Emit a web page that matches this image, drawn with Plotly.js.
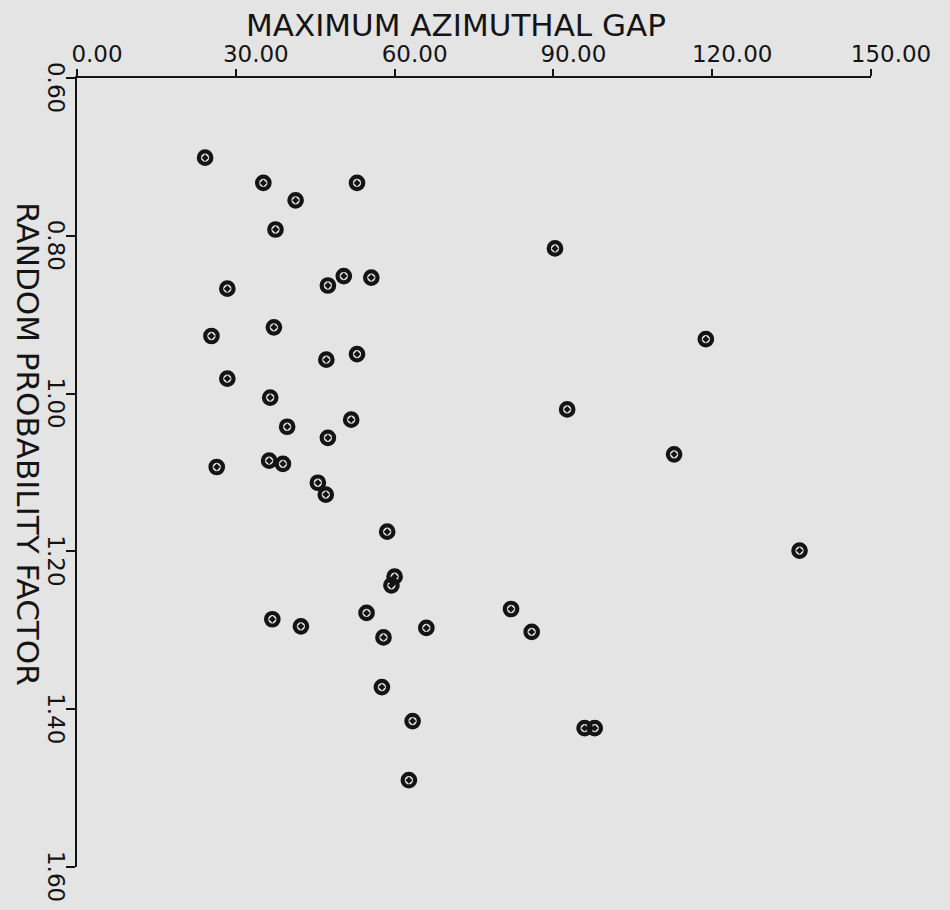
<!DOCTYPE html>
<html>
<head>
<meta charset="utf-8">
<script src="https://cdn.plot.ly/plotly-3.0.1.min.js"></script>
<style>
  html, body { margin: 0; padding: 0; background: #e4e4e4; }
  #chart { width: 950px; height: 910px; }
</style>
</head>
<body>
<div id="chart"></div>
<script>
// Maximum azimuthal gap (degrees)
const gap = [
  24.2, 35.2, 52.9, 41.3, 37.5, 90.3, 50.4, 47.4, 55.6, 28.4,
  25.4, 37.2, 118.8, 47.1, 52.9, 28.4, 36.5, 92.6, 51.8, 39.7,
  47.4, 112.8, 26.4, 36.3, 38.9, 45.5, 47.0, 58.6, 136.5, 60.0,
  59.4, 36.9, 42.3, 54.7, 57.9, 66.0, 82.0, 85.9, 57.6, 63.4,
  95.9, 97.8, 62.7
];
// Random probability factor
const rpf = [
  0.701, 0.733, 0.733, 0.755, 0.792, 0.816, 0.851, 0.863, 0.853, 0.867,
  0.927, 0.916, 0.931, 0.957, 0.950, 0.981, 1.005, 1.020, 1.033, 1.042,
  1.056, 1.077, 1.093, 1.085, 1.089, 1.113, 1.128, 1.175, 1.199, 1.232,
  1.243, 1.286, 1.295, 1.278, 1.309, 1.297, 1.273, 1.302, 1.372, 1.415,
  1.424, 1.424, 1.490
];
const xTickVals = [0, 30, 60, 90, 120, 150];
const xTickText = ["0.00", "30.00", "60.00", "90.00", "120.00", "150.00"];
const yTickVals = [0.6, 0.8, 1.0, 1.2, 1.4, 1.6];
const yTickText = ["0.60", "0.80", "1.00", "1.20", "1.40", "1.60"];
const xTitle = "MAXIMUM AZIMUTHAL GAP";
const yTitle = "RANDOM PROBABILITY FACTOR";

const ink = "#141414";
const bg = "#e4e4e4";
const font = "DejaVu Sans, Arial, sans-serif";

const trace = {
  type: "scatter",
  mode: "markers",
  x: gap,
  y: rpf,
  marker: {
    symbol: "circle-open-dot",
    size: 12.5,
    color: ink,
    line: { width: 4.2, color: ink }
  },
  hoverinfo: "x+y"
};

const layout = {
  width: 950,
  height: 910,
  paper_bgcolor: bg,
  plot_bgcolor: bg,
  margin: { l: 77, r: 79, t: 78, b: 43 },
  showlegend: false,
  font: { family: font, color: ink, size: 23 },
  xaxis: {
    side: "top",
    range: [0, 150],
    tickvals: xTickVals,
    ticktext: xTickText,
    ticks: "outside",
    ticklen: 7,
    tickwidth: 2,
    tickcolor: ink,
    showline: true,
    linewidth: 2.5,
    linecolor: ink,
    showgrid: false,
    zeroline: false,
    ticklabelshift: 20,
    ticklabelstandoff: -3,
    tickfont: { family: font, size: 23, color: ink }
  },
  yaxis: {
    range: [1.6, 0.6],
    tickvals: yTickVals,
    ticktext: yTickText,
    tickangle: 90,
    ticks: "outside",
    ticklen: 9,
    tickwidth: 2,
    tickcolor: ink,
    showline: true,
    linewidth: 2.5,
    linecolor: ink,
    showgrid: false,
    zeroline: false,
    ticklabelshift: -13,
    ticklabelstandoff: -10,
    tickfont: { family: font, size: 23, color: ink }
  },
  annotations: [
    {
      text: xTitle,
      xref: "paper", yref: "paper",
      x: 0.5, y: 1,
      xanchor: "center", yanchor: "middle",
      xshift: -18, yshift: 53,
      showarrow: false,
      font: { family: font, size: 31, color: ink }
    },
    {
      text: yTitle,
      xref: "paper", yref: "paper",
      x: 0, y: 0.537,
      xanchor: "center", yanchor: "middle",
      xshift: -49,
      textangle: 90,
      showarrow: false,
      font: { family: font, size: 31, color: ink }
    }
  ]
};

Plotly.newPlot("chart", [trace], layout, { displayModeBar: false, staticPlot: true });
</script>
</body>
</html>
